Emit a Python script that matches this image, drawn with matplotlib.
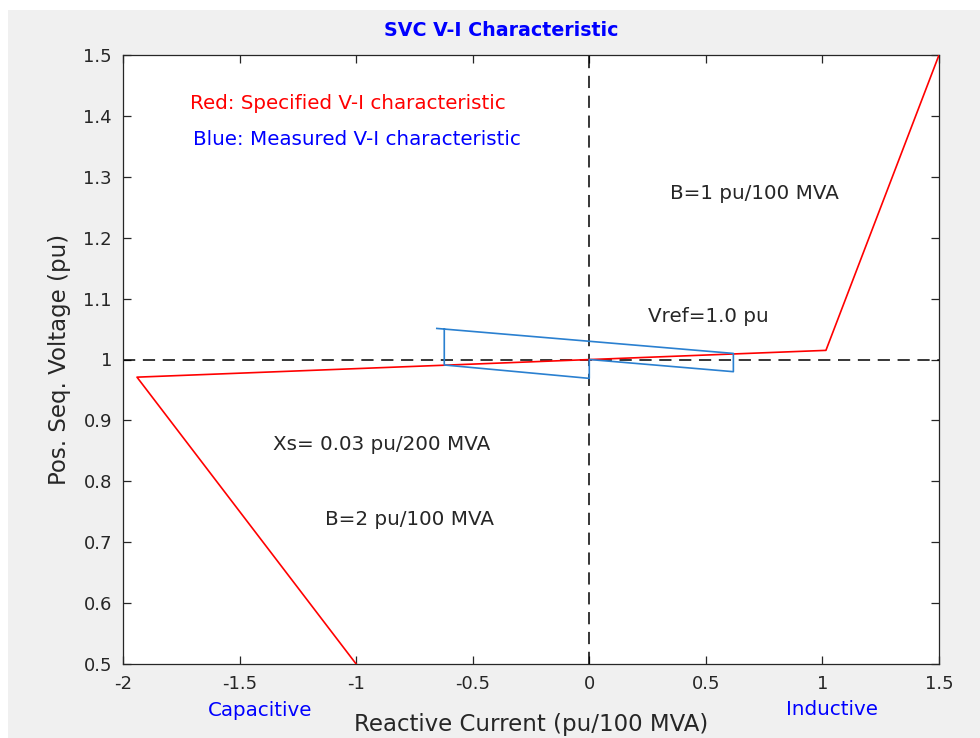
import matplotlib.pyplot as plt
from matplotlib.patches import Rectangle

plt.rcParams['font.family'] = ['DejaVu Sans']

# Specified V-I characteristic (red)
spec_i = [-1.0, -1.94, 1.015, 1.5]
spec_v = [0.5, 0.971, 1.015, 1.5]

# Measured V-I characteristic (blue)
meas_i = [-0.654, 0.618, 0.618, 0.0, 0.0, -0.622, -0.622]
meas_v = [1.051, 1.010, 0.980, 1.000, 0.969, 0.991, 1.050]

x_ticks = [-2, -1.5, -1, -0.5, 0, 0.5, 1, 1.5]
x_ticklabels = ['-2', '-1.5', '-1', '-0.5', '0', '0.5', '1', '1.5']
y_ticks = [0.5, 0.6, 0.7, 0.8, 0.9, 1.0, 1.1, 1.2, 1.3, 1.4, 1.5]
y_ticklabels = ['0.5', '0.6', '0.7', '0.8', '0.9', '1', '1.1', '1.2', '1.3', '1.4', '1.5']

fig = plt.figure(figsize=(9.8, 7.38), dpi=100, facecolor='white')
# gray matlab-like window background
fig.patches.append(Rectangle((8 / 980, 0), 1, 1 - 10 / 738, transform=fig.transFigure,
                             facecolor='#f0f0f0', edgecolor='none', zorder=-10))

ax = fig.add_axes([123 / 980, 1 - 664 / 738, 816 / 980, 609 / 738])
ax.set_facecolor('white')

ax.plot(spec_i, spec_v, color='red', linewidth=1.2, zorder=3)
ax.plot(meas_i, meas_v, color='#2a80d0', linewidth=1.2, zorder=4)
ax.axhline(1.0, color='black', linewidth=1.1, dashes=(8, 5), zorder=2)
ax.axvline(0.0, color='black', linewidth=1.1, dashes=(8, 5), zorder=2)

ax.set_xlim(-2, 1.5)
ax.set_ylim(0.5, 1.5)
ax.set_xticks(x_ticks)
ax.set_xticklabels(x_ticklabels)
ax.set_yticks(y_ticks)
ax.set_yticklabels(y_ticklabels)
ax.tick_params(direction='in', length=6, width=0.9, colors='#262626', labelsize=13,
               top=True, right=True, pad=8)
for s in ax.spines.values():
    s.set_color('#262626')
    s.set_linewidth(0.9)

# title sits a bit left of the axes centre in the original
fig.text(501 / 980, 1 - 30 / 738, 'SVC V-I Characteristic', color='blue', fontweight='bold',
         fontsize=13.7, ha='center', va='center')
ax.set_xlabel('Reactive Current (pu/100 MVA)', fontsize=16.5, color='#262626', labelpad=14)
ax.set_ylabel('Pos. Seq. Voltage (pu)', fontsize=16.5, color='#262626', labelpad=9)

fs = 14.3
ax.text(-1.713, 1.421, 'Red: Specified V-I characteristic', color='red', fontsize=fs, va='center')
ax.text(-1.700, 1.362, 'Blue: Measured V-I characteristic', color='blue', fontsize=fs, va='center')
ax.text(0.347, 1.273, 'B=1 pu/100 MVA', color='#262626', fontsize=fs, va='center')
ax.text(0.252, 1.070, 'Vref=1.0 pu', color='#262626', fontsize=fs, va='center')
ax.text(-1.356, 0.860, 'Xs= 0.03 pu/200 MVA', color='#262626', fontsize=fs, va='center')
ax.text(-1.133, 0.738, 'B=2 pu/100 MVA', color='#262626', fontsize=fs, va='center')
ax.text(-1.412, 0.423, 'Capacitive', color='blue', fontsize=fs, ha='center', va='center', clip_on=False)
ax.text(1.042, 0.426, 'Inductive', color='blue', fontsize=fs, ha='center', va='center', clip_on=False)

plt.savefig('out.png', dpi=100, facecolor=fig.get_facecolor())
